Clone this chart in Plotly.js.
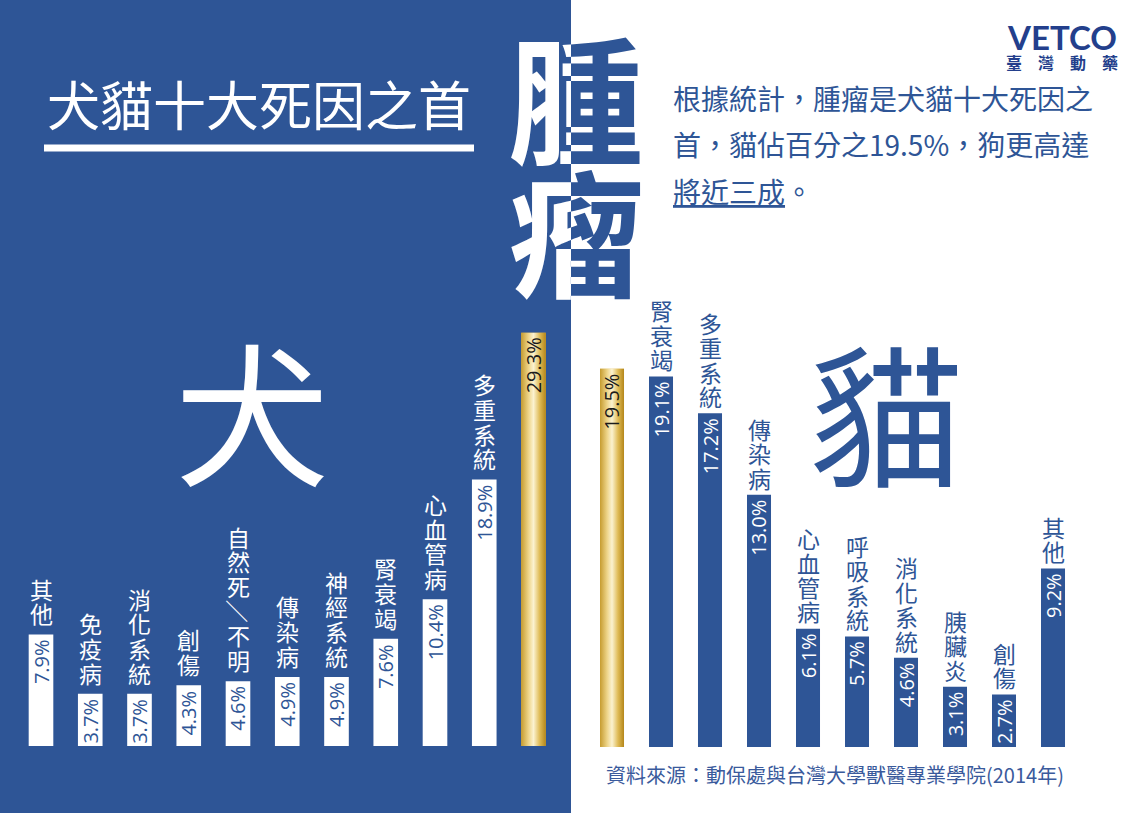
<!DOCTYPE html>
<html>
<head>
<meta charset="utf-8">
<script src="https://cdn.plot.ly/plotly-3.0.1.min.js"></script>
<style>
html,body{margin:0;padding:0;background:#fff;}
#wrap{position:relative;width:1140px;height:813px;overflow:hidden;}
#dog{position:absolute;left:0;top:0;width:571px;height:813px;overflow:hidden;}
#cat{position:absolute;left:571px;top:0;width:569px;height:813px;overflow:hidden;}
</style>
</head>
<body>
<div id="wrap"><div id="dog"></div><div id="cat"></div></div>
<script>
// ---- data ----
const dogCategories = ['其他','免疫病','消化系統','創傷','自然死/不明','傳染病','神經系統','腎衰竭','心血管病','多重系統','腫瘤'];
const dogValues = [7.9, 3.7, 3.7, 4.3, 4.6, 4.9, 4.9, 7.6, 10.4, 18.9, 29.3];
const catCategories = ['腫瘤','腎衰竭','多重系統','傳染病','心血管病','呼吸系統','消化系統','胰臟炎','創傷','其他'];
const catValues = [19.5, 19.1, 17.2, 13.0, 6.1, 5.7, 4.6, 3.1, 2.7, 9.2];
const highlight = '腫瘤';
const titleText = '犬貓十大死因之首';
const bigWord = ['腫', '瘤'];
const introLines = ['根據統計，腫瘤是犬貓十大死因之', '首，貓佔百分之19.5%，狗更高達', '<u>將近三成</u>。'];
const sourceText = '資料來源：動保處與台灣大學獸醫專業學院(2014年)';

// ---- styles ----
const BLUE = '#2E5596';
const GOLD = '#D9B24A';
const CJK = '"Noto Sans CJK TC", "Noto Sans CJK SC", sans-serif';
const NUM = '"Open Sans", "Noto Sans", sans-serif';
const goldScale = [[0,'#C69C30'],[0.3,'#EED58A'],[0.5,'#FBF2D0'],[0.75,'#DFBB56'],[1,'#B4861A']];
const W = 1140, H = 813, SPLIT = 571;

function idx(a){ return a.map((_,i)=>i); }

function buildPanel(cats, vals, o){
  const hi = cats.indexOf(highlight);
  const xs = idx(cats);
  const barColors = cats.map((c,i)=> i===hi ? GOLD : o.barColor);
  const traces = [{
    type:'bar', x: xs, y: vals, width: o.barW,
    marker:{color: barColors, line:{width:0}},
    hoverinfo:'skip'
  },{
    type:'scatter', mode:'lines',
    x:[hi-o.barW/2, hi+o.barW/2, hi+o.barW/2, hi-o.barW/2, hi-o.barW/2],
    y:[0, 0, vals[hi], vals[hi], 0],
    fill:'toself', fillcolor: GOLD,
    fillgradient:{type:'horizontal', colorscale: goldScale},
    line:{width:0}, hoverinfo:'skip'
  }];
  const anns = [];
  // value labels inside bars
  vals.forEach((v,i)=>{
    anns.push({x:i, y:v, xref:'x', yref:'y', text: v.toFixed(1)+'%', textangle:-90,
      showarrow:false, xanchor:'center', yanchor:'top', yshift:-3,
      font:{family:NUM, size:20, color: i===hi ? '#1b1b1b' : o.valColor}});
  });
  // stacked vertical category labels, one character each
  cats.forEach((c,i)=>{
    if(i===hi) return;
    const chars = Array.from(c);
    const n = chars.length;
    chars.forEach((ch,k)=>{
      const slash = ch === '/';
      anns.push({x:i, y:vals[i], xref:'x', yref:'y', text: slash ? '／' : ch,
        textangle: slash ? 90 : 0, showarrow:false, xanchor:'center', yanchor:'middle',
        yshift: o.gap + (n-1-k)*o.lh + o.lh/2,
        font:{family:CJK, size:o.labSize, color:o.labColor}});
    });
  });
  return {traces, anns};
}

// ---- dog panel (left) ----
const dogW = SPLIT;
const dogPx0 = 41, dogStep = 49.25, dogBase = 746, dogScale = 14.1;
const dogX0 = -dogPx0/dogStep, dogX1 = dogX0 + dogW/dogStep;
const dogY0 = -(H-dogBase)/dogScale, dogY1 = dogBase/dogScale;
const dog = buildPanel(dogCategories, dogValues, {barW:0.5, barColor:'#FFFFFF', valColor:BLUE,
  labColor:'#FFFFFF', labSize:23, lh:24.6, gap:9});
const px = (x,w)=> x/w, py = y=> 1 - y/H;
dog.anns.push(
  {xref:'paper', yref:'paper', x:px(45,dogW), y:py(103), xanchor:'left', yanchor:'middle', showarrow:false,
   text:titleText, font:{family:CJK, size:53, color:'#FFFFFF'}},
  {xref:'paper', yref:'paper', x:px(252,dogW), y:py(407), xanchor:'center', yanchor:'middle', showarrow:false,
   text:'犬', font:{family:CJK, size:154, color:'#FFFFFF'}},
  {xref:'paper', yref:'paper', x:px(576,dogW), y:py(95), xanchor:'center', yanchor:'middle', showarrow:false,
   text:'<b>'+bigWord[0]+'</b>', font:{family:CJK, size:136, color:'#FFFFFF'}},
  {xref:'paper', yref:'paper', x:px(576,dogW), y:py(228), xanchor:'center', yanchor:'middle', showarrow:false,
   text:'<b>'+bigWord[1]+'</b>', font:{family:CJK, size:136, color:'#FFFFFF'}}
);
Plotly.newPlot('dog', dog.traces, {
  width:dogW, height:H, margin:{l:0,r:0,t:0,b:0}, paper_bgcolor:BLUE, plot_bgcolor:'rgba(0,0,0,0)',
  showlegend:false, hovermode:false,
  xaxis:{range:[dogX0,dogX1], visible:false, fixedrange:true},
  yaxis:{range:[dogY0,dogY1], visible:false, fixedrange:true},
  shapes:[{type:'line', xref:'paper', yref:'paper', x0:px(44,dogW), x1:px(474,dogW), y0:py(148), y1:py(148),
    line:{color:'#FFFFFF', width:7}}],
  annotations: dog.anns
}, {staticPlot:true, displayModeBar:false});

// ---- cat panel (right) ----
const catW = W - SPLIT;
const catPx0 = 41, catStep = 49.0, catBase = 747, catScale = 19.4;
const catX0 = -catPx0/catStep, catX1 = catX0 + catW/catStep;
const catY0 = -(H-catBase)/catScale, catY1 = catBase/catScale;
const cat = buildPanel(catCategories, catValues, {barW:0.49, barColor:BLUE, valColor:'#FFFFFF',
  labColor:BLUE, labSize:23, lh:24.4, gap:5});
const cx = x => (x - SPLIT)/catW;
cat.anns.push(
  {xref:'paper', yref:'paper', x:cx(576), y:py(95), xanchor:'center', yanchor:'middle', showarrow:false,
   text:'<b>'+bigWord[0]+'</b>', font:{family:CJK, size:136, color:BLUE}},
  {xref:'paper', yref:'paper', x:cx(576), y:py(228), xanchor:'center', yanchor:'middle', showarrow:false,
   text:'<b>'+bigWord[1]+'</b>', font:{family:CJK, size:136, color:BLUE}},
  {xref:'paper', yref:'paper', x:cx(886), y:py(408), xanchor:'center', yanchor:'middle', showarrow:false,
   text:'貓', font:{family:CJK, size:154, color:BLUE}},
  {xref:'paper', yref:'paper', x:cx(1062), y:py(37), xanchor:'center', yanchor:'middle', showarrow:false,
   text:'<b>VETCO</b>', font:{family:'Lato, "DejaVu Sans", sans-serif', size:33, color:'#233F8C'}},
  {xref:'paper', yref:'paper', x:cx(1062), y:py(62), xanchor:'center', yanchor:'middle', showarrow:false,
   text:'<b>臺　灣　動　藥</b>', font:{family:CJK, size:16, color:'#233F8C'}},
  {xref:'paper', yref:'paper', x:cx(604), y:py(774), xanchor:'left', yanchor:'middle', showarrow:false,
   text:sourceText, font:{family:CJK, size:20, color:'#3A5A9C'}}
);
const lineY = [98, 144, 191];
introLines.forEach((t,i)=>{
  cat.anns.push({xref:'paper', yref:'paper', x:cx(671), y:py(lineY[i]), xanchor:'left', yanchor:'middle',
    showarrow:false, text:t, font:{family:CJK, size:28, color:BLUE}});
});
Plotly.newPlot('cat', cat.traces, {
  width:catW, height:H, margin:{l:0,r:0,t:0,b:0}, paper_bgcolor:'#FFFFFF', plot_bgcolor:'rgba(0,0,0,0)',
  showlegend:false, hovermode:false,
  xaxis:{range:[catX0,catX1], visible:false, fixedrange:true},
  yaxis:{range:[catY0,catY1], visible:false, fixedrange:true},
  annotations: cat.anns
}, {staticPlot:true, displayModeBar:false});
</script>
</body>
</html>
